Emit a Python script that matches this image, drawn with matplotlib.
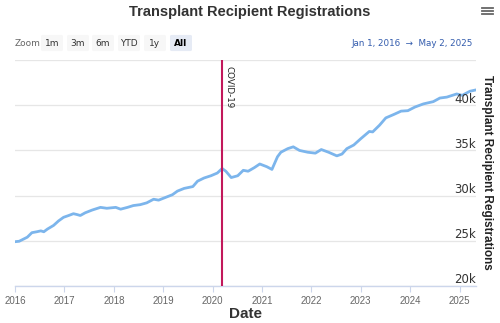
import matplotlib
matplotlib.use("Agg")
import matplotlib.pyplot as plt
import pandas as pd
from matplotlib.patches import FancyBboxPatch

dates = [
    "2016-01-01", "2016-02-01", "2016-04-01", "2016-05-05", "2016-06-10", "2016-07-10",
    "2016-08-01", "2016-08-28", "2016-10-12", "2016-11-18", "2016-12-25", "2017-02-01",
    "2017-03-08", "2017-04-05", "2017-04-28", "2017-06-03", "2017-07-24", "2017-09-24",
    "2017-11-10", "2018-01-15", "2018-02-20", "2018-04-12", "2018-05-25", "2018-07-15",
    "2018-09-01", "2018-10-22", "2018-11-28", "2019-01-18", "2019-03-10", "2019-04-16",
    "2019-06-05", "2019-08-08", "2019-09-12", "2019-10-30", "2019-12-20", "2020-02-05",
    "2020-03-12", "2020-04-08", "2020-05-18", "2020-07-05", "2020-08-15", "2020-09-20",
    "2020-11-05", "2020-12-15", "2021-02-05", "2021-03-15", "2021-04-25", "2021-05-20",
    "2021-07-10", "2021-08-20", "2021-10-05", "2021-12-05", "2022-01-30", "2022-03-15",
    "2022-05-08", "2022-07-08", "2022-08-15", "2022-09-20", "2022-11-10", "2023-01-01",
    "2023-03-05", "2023-03-30", "2023-05-20", "2023-07-05", "2023-09-05", "2023-10-26",
    "2023-12-15", "2024-02-05", "2024-04-08", "2024-06-20", "2024-08-08", "2024-09-28",
    "2024-12-10", "2025-01-20", "2025-03-18", "2025-05-02",
]
registrations = [
    24900, 24950, 25400, 25900, 26000, 26100,
    26000, 26300, 26700, 27200, 27600, 27800,
    28000, 27900, 27800, 28100, 28400, 28700,
    28600, 28700, 28500, 28700, 28900, 29000,
    29200, 29600, 29500, 29800, 30100, 30500,
    30800, 31000, 31600, 31950, 32200, 32500,
    33000, 32700, 32000, 32200, 32800, 32700,
    33100, 33500, 33200, 32900, 34300, 34800,
    35200, 35400, 35000, 34800, 34700, 35100,
    34800, 34400, 34600, 35200, 35600, 36300,
    37100, 37050, 37800, 38600, 39000, 39350,
    39400, 39800, 40150, 40400, 40800, 40900,
    41250, 41100, 41550, 41700,
]
event_date = "2020-03-13"
event_label = "COVID-19"
year_ticks = list(range(2016, 2026))
y_ticks = [20000, 25000, 30000, 35000, 40000]
y_tick_labels = ["20k", "25k", "30k", "35k", "40k"]
zoom_buttons = ["1m", "3m", "6m", "YTD", "1y", "All"]

x = pd.to_datetime(dates)
BOLD = "Liberation Sans"

fig = plt.figure(figsize=(5.0, 3.23), dpi=100)
ax = fig.add_axes([0.03, 0.1146, 0.922, 0.6994])

ax.plot(x, registrations, color="#7cb5ec", lw=2.0, solid_capstyle="round", zorder=3)
ax.set_xlim(pd.Timestamp("2016-01-01"), pd.Timestamp("2025-05-02"))
ax.set_ylim(20000, 45000)

for v in [20000, 25000, 30000, 35000, 40000, 45000]:
    ax.axhline(v, color="#e6e6e6", lw=0.9, zorder=1)

ax.axvline(pd.Timestamp(event_date), color="#c2185b", lw=1.5, zorder=4)
ax.text(pd.Timestamp(event_date) + pd.Timedelta(days=14), 44300, event_label,
        rotation=270, ha="left", va="top", fontsize=6.3, color="#222222", zorder=5)

for s in ["top", "right", "left"]:
    ax.spines[s].set_visible(False)
ax.spines["bottom"].set_color("#ccd6eb")
ax.spines["bottom"].set_linewidth(1.0)

ax.set_xticks([pd.Timestamp(f"{y}-01-01") for y in year_ticks])
ax.set_xticklabels([str(y) for y in year_ticks], fontsize=7, color="#666666",
                   family="Liberation Sans")
ax.tick_params(axis="x", length=4, color="#ccd6eb", pad=3)
ax.set_yticks([])
for v, lab in zip(y_ticks, y_tick_labels):
    ax.text(1.0, v + 300, lab, transform=ax.get_yaxis_transform(), ha="right",
            va="baseline", fontsize=8.5, color="#333333")

ax.set_xlabel("Date", fontsize=11, fontweight="bold", color="#333333", labelpad=1,
              family=BOLD)

fig.text(0.5, 1 - 12 / 323, "Transplant Recipient Registrations", ha="center", va="center",
         fontsize=10.5, fontweight="bold", color="#333333", family=BOLD)
fig.text(487 / 500, 1 - 172 / 323, "Transplant Recipient Registrations", rotation=270,
         ha="center", va="center", fontsize=8.5, fontweight="bold", color="#222222",
         family=BOLD)

# hamburger icon
for dy in [-3, 0, 3]:
    fig.add_artist(plt.Line2D([482 / 500, 493 / 500], [1 - (11 + dy) / 323] * 2,
                              color="#666666", lw=1.3, transform=fig.transFigure))

# range selector
ybtn = 1 - 43 / 323
fig.text(15 / 500, ybtn, "Zoom", ha="left", va="center", fontsize=6.5, color="#666666")
btn_x = [52, 78, 103, 129, 155, 181]
for bx, lab in zip(btn_x, zoom_buttons):
    sel = lab == "All"
    fig.add_artist(FancyBboxPatch(((bx - 11) / 500, ybtn - 0.025), 22 / 500, 0.05,
                                  boxstyle="round,pad=0,rounding_size=0.004",
                                  transform=fig.transFigure,
                                  facecolor="#e6ebf5" if sel else "#f7f7f7",
                                  edgecolor="none"))
    fig.text(bx / 500, ybtn, lab, ha="center", va="center", fontsize=6.5,
             color="#000000" if sel else "#333333", fontweight="bold" if sel else "normal")
fig.text(473 / 500, ybtn, "Jan 1, 2016  \u2192  May 2, 2025", ha="right", va="center",
         fontsize=6.3, color="#335cad")

fig.savefig("out.png", dpi=100)
